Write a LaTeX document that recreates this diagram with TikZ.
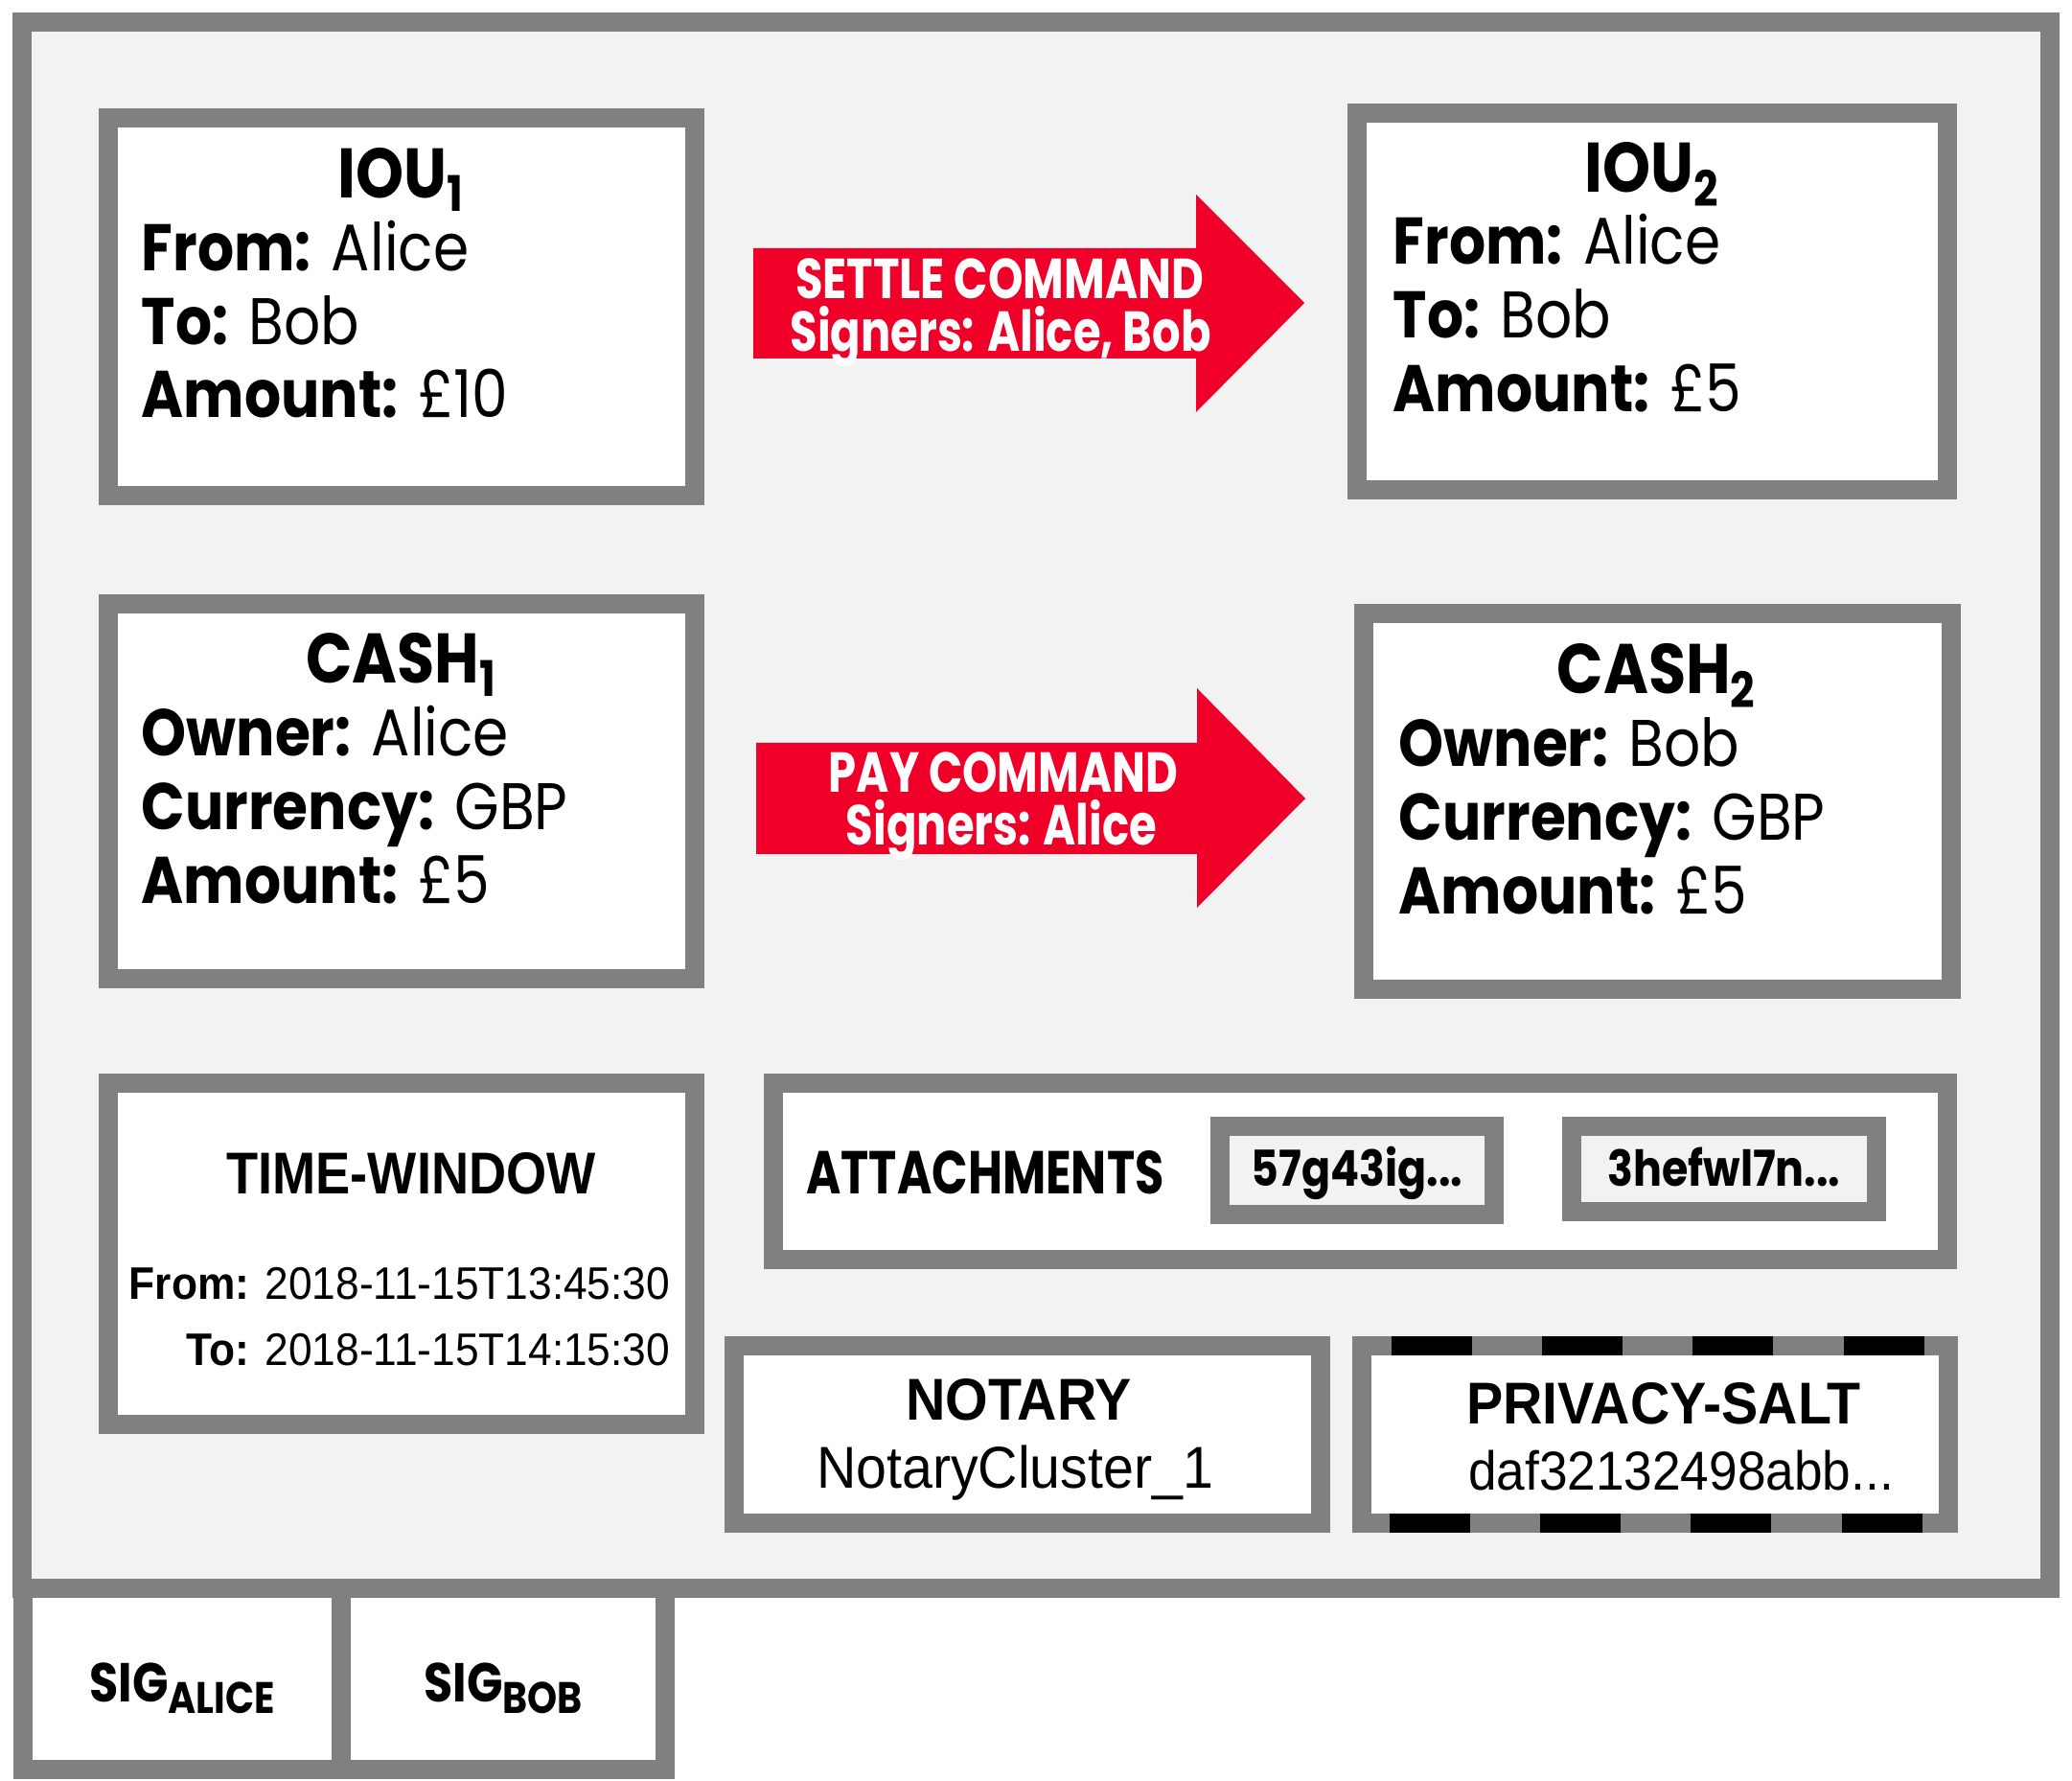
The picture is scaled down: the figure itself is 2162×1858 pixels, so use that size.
\documentclass[tikz,border=0pt]{standalone}
\usepackage{fontspec}
\setmainfont[FakeStretch=0.87]{Poppins}
\newfontfamily\gothiccond[FakeStretch=0.86]{Poppins}
\newfontfamily\gothiccmd[FakeStretch=0.79]{Poppins}
\newfontfamily\gothicatt[FakeStretch=0.78]{Poppins}
\newfontfamily\arialnar[FakeStretch=0.93]{Liberation Sans}
\newfontfamily\arialtw[FakeStretch=0.88]{Liberation Sans}
\definecolor{framegray}{RGB}{128,128,128}
\definecolor{paper}{RGB}{242,242,242}
\definecolor{cmdred}{RGB}{240,0,40}
\newcommand*{\lw       }{5pt}
\newcommand*{\titlesize}{\fontsize{18.3}{20}\selectfont}
\newcommand*{\bodysize }{\fontsize{17.2}{19}\selectfont}
\newcommand*{\cmdsize  }{\fontsize{14.7}{16}\selectfont}
\newcommand*{\headsize }{\fontsize{15.4}{17}\selectfont}

\begin{document}
\begin{tikzpicture}[x=0.25pt, y=-0.25pt,
    box/.style   = {draw=framegray, line width=\lw, fill=white},
    title/.style = {inner sep=0pt, anchor=base, font=\titlesize\bfseries},
    body/.style  = {inner sep=0pt, anchor=base west, font=\bodysize},
    cmd/.style   = {inner sep=0pt, anchor=base, text=white, font=\gothiccmd\cmdsize\bfseries},
    head/.style  = {inner sep=0pt, anchor=base, font=\arialnar\headsize\bfseries}]
        \useasboundingbox (0,0) rectangle (2162,1858);
        \fill [white] (0,0) rectangle (2162,1858);
        \draw [draw=framegray, line width=\lw, fill=paper] (23,23) rectangle (2139,1657);
        \draw [box] (24,1657) rectangle (356,1846);
        \draw [box] (356,1657) rectangle (694,1846);
        % states
        \draw [box] (113,123) rectangle (725,517);
        \draw [box] (1416,118) rectangle (2032,511);
        \draw [box] (113,630) rectangle (725,1021);
        \draw [box] (1423,640) rectangle (2036,1032);
        \node [title] (iouA)  at (419,207) {IOU\textsubscript{1}};
        \node [body] (iouAfrom) at (147,283) {\textbf{From:} Alice};
        \node [body] (iouAto)   at (147,360) {\textbf{To:} Bob};
        \node [body] (iouAamt)  at (147,436) {\textbf{Amount:} £10};
        \node [title] (iouB)  at (1724,201) {IOU\textsubscript{2}};
        \node [body] (iouBfrom) at (1453,276) {\textbf{From:} Alice};
        \node [body] (iouBto)   at (1453,353) {\textbf{To:} Bob};
        \node [body] (iouBamt)  at (1453,430) {\textbf{Amount:} £5};
        \node [title] (cashA) at (419,713) {CASH\textsubscript{1}};
        \node [body] (cashAown) at (147,789) {\textbf{Owner:} Alice};
        \node [body] (cashAcur) at (147,866) {\textbf{Currency:} GBP};
        \node [body] (cashAamt) at (147,943) {\textbf{Amount:} £5};
        \node [title] (cashB) at (1729,724) {CASH\textsubscript{2}};
        \node [body] (cashBown) at (1459,800) {\textbf{Owner:} Bob};
        \node [body] (cashBcur) at (1459,877) {\textbf{Currency:} GBP};
        \node [body] (cashBamt) at (1459,954) {\textbf{Amount:} £5};
        % commands
        \fill [cmdred] (786,259) -- (1248,259) -- (1248,203) -- (1361,316) -- (1248,430) -- (1248,374) -- (786,374) -- cycle;
        \fill [cmdred] (789,775) -- (1249,775) -- (1249,718) -- (1362,833) -- (1249,947) -- (1249,891) -- (789,891) -- cycle;
        \node [cmd] (settle)     at (1043,312) {SETTLE COMMAND};
        \node [cmd] (settlesig)  at (1044,367) {Signers: Alice, Bob};
        \node [cmd] (pay)        at (1047,827) {PAY COMMAND};
        \node [cmd] (paysig)     at (1045,882) {Signers: Alice};
        % time-window, attachments, notary, salt
        \draw [box] (113,1130) rectangle (725,1486);
        \draw [box] (807,1130) rectangle (2032,1314);
        \draw [box, fill=paper] (1273,1175) rectangle (1559,1267);
        \draw [box, fill=paper] (1640,1175) rectangle (1958,1264);
        \draw [box] (766,1404) rectangle (1378,1589);
        \draw [box] (1421,1404) rectangle (2033,1589);
        \draw [line width=\lw, dash pattern=on 21pt off 18.3pt] (1452,1404) -- (2010,1404);
        \draw [line width=\lw, dash pattern=on 21pt off 18.3pt] (1450,1589) -- (2008,1589);
        %\draw [fill=white, draw=none] (1421,1404) rectangle (2033,1589);
        \node [inner sep=0pt, anchor=base, font=\arialtw\headsize\bfseries] (tw) at (429,1246) {TIME-WINDOW};
        \node [inner sep=0pt, anchor=base east, font=\arialnar\fontsize{11.9}{13}\selectfont] (twfrom) at (700,1355) {\textbf{From:} 2018-11-15T13:45:30};
        \node [inner sep=0pt, anchor=base east, font=\arialnar\fontsize{11.9}{13}\selectfont] (twto)   at (700,1424) {\textbf{To:} 2018-11-15T14:15:30};
        \node [inner sep=0pt, anchor=base, font=\gothicatt\fontsize{15.8}{17}\selectfont\bfseries] (att) at (1028,1246) {ATTACHMENTS};
        \node [inner sep=0pt, anchor=base, font=\gothiccond\fontsize{12.9}{14}\selectfont\bfseries] (attA) at (1416,1238) {57g43ig...};
        \node [inner sep=0pt, anchor=base, font=\gothiccond\fontsize{12.9}{14}\selectfont\bfseries] (attB) at (1799,1238) {3hefwl7n...};
        \node [head] (notary) at (1063,1481) {NOTARY};
        \node [inner sep=0pt, anchor=base, font=\arialnar\headsize] (cluster) at (1059,1553) {NotaryCluster\_1};
        \node [head] (salt) at (1736,1485) {PRIVACY-SALT};
        \node [inner sep=0pt, anchor=base, font=\arialnar\fontsize{14.3}{16}\selectfont] (saltval) at (1754,1554) {daf32132498abb...};
        % signatures
        \node [inner sep=0pt, anchor=base, font=\gothiccond\fontsize{14.3}{16}\selectfont\bfseries] (sigA) at (190,1775) {SIG\raisebox{-3pt}{\fontsize{11.5}{12}\selectfont ALICE}};
        \node [inner sep=0pt, anchor=base, font=\gothiccond\fontsize{14.3}{16}\selectfont\bfseries] (sigB) at (525,1775) {SIG\raisebox{-3pt}{\fontsize{11.5}{12}\selectfont BOB}};
    \end{tikzpicture}
\end{document}
